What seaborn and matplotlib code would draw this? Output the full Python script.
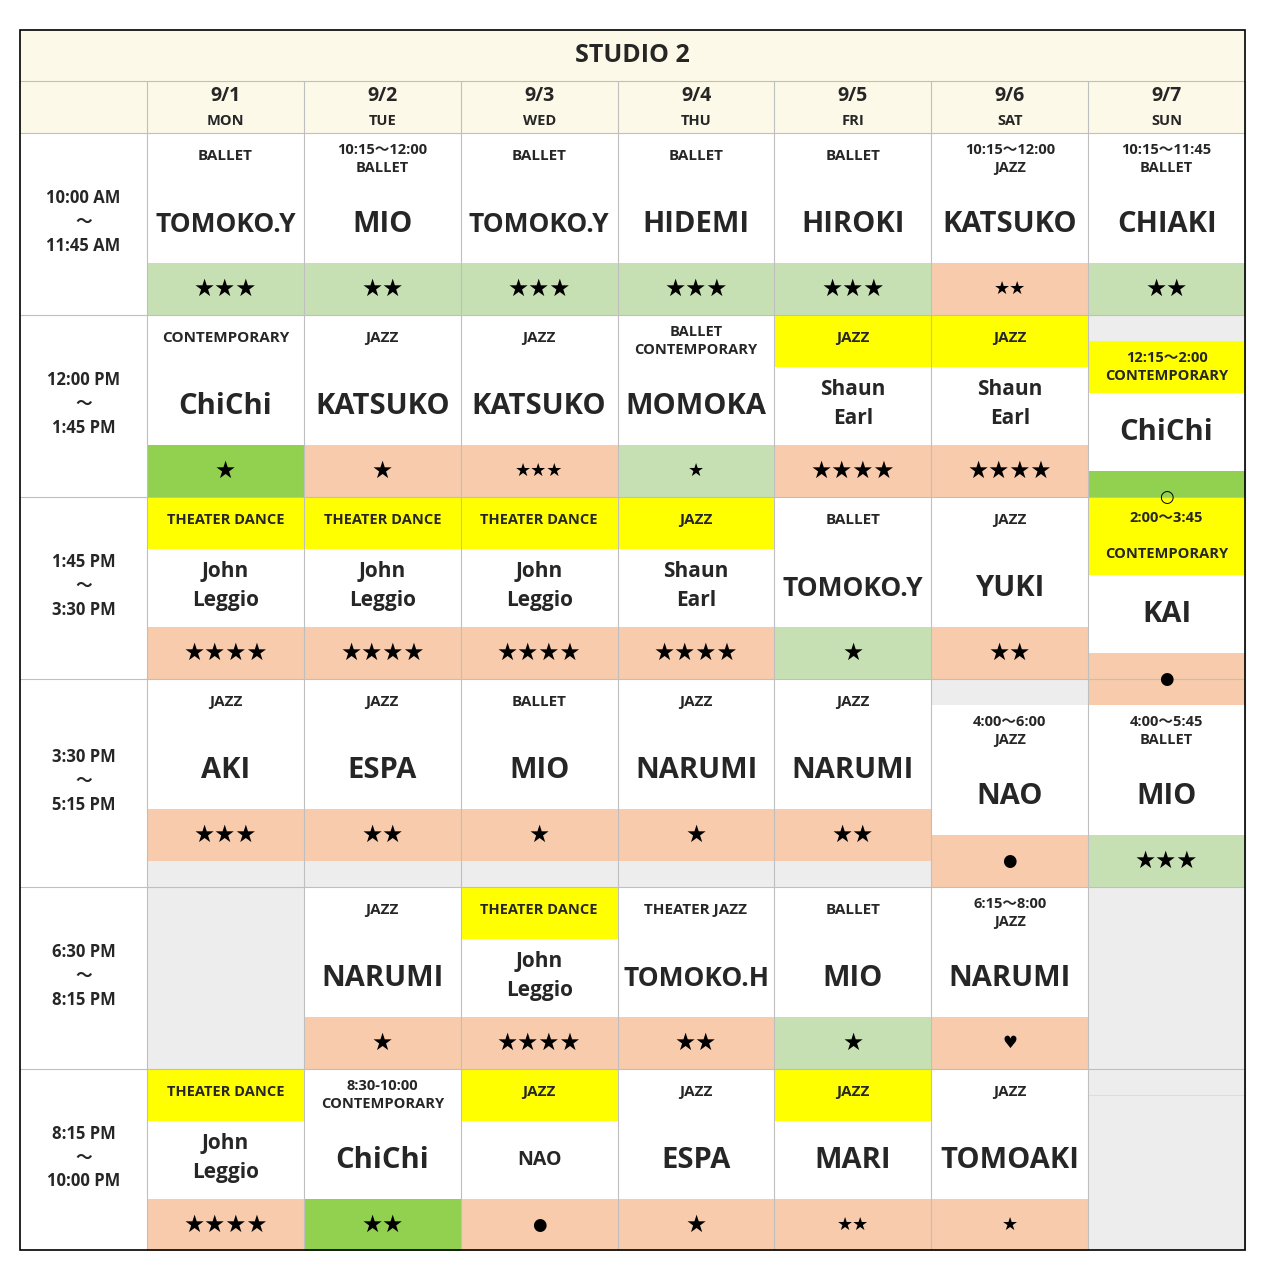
import matplotlib
matplotlib.use("Agg")
import matplotlib.pyplot as plt
import seaborn as sns
from matplotlib.patches import Rectangle

sns.set_theme(style="white")

# ---------------- data ----------------
title = "STUDIO 2"
days = ["9/1", "9/2", "9/3", "9/4", "9/5", "9/6", "9/7"]
weekdays = ["MON", "TUE", "WED", "THU", "FRI", "SAT", "SUN"]
time_slots = ["10:00 AM\n～\n11:45 AM", "12:00 PM\n～\n1:45 PM", "1:45 PM\n～\n3:30 PM",
              "3:30 PM\n～\n5:15 PM", "6:30 PM\n～\n8:15 PM", "8:15 PM\n～\n10:00 PM"]
# (day, slot, class label, instructor, level, class colour, level colour)
classes = [
    (0, 0, "BALLET", "TOMOKO.Y", "★★★", "w", "lg"),
    (1, 0, "10:15～12:00\nBALLET", "MIO", "★★", "w", "lg"),
    (2, 0, "BALLET", "TOMOKO.Y", "★★★", "w", "lg"),
    (3, 0, "BALLET", "HIDEMI", "★★★", "w", "lg"),
    (4, 0, "BALLET", "HIROKI", "★★★", "w", "lg"),
    (5, 0, "10:15～12:00\nJAZZ", "KATSUKO", "★★", "w", "pe"),
    (6, 0, "10:15～11:45\nBALLET", "CHIAKI", "★★", "w", "lg"),
    (0, 1, "CONTEMPORARY", "ChiChi", "★", "w", "bg"),
    (1, 1, "JAZZ", "KATSUKO", "★", "w", "pe"),
    (2, 1, "JAZZ", "KATSUKO", "★★★", "w", "pe"),
    (3, 1, "BALLET\nCONTEMPORARY", "MOMOKA", "★", "w", "lg"),
    (4, 1, "JAZZ", "Shaun\nEarl", "★★★★", "y", "pe"),
    (5, 1, "JAZZ", "Shaun\nEarl", "★★★★", "y", "pe"),
    (6, 1, "12:15～2:00\nCONTEMPORARY", "ChiChi", "○", "y", "bg"),
    (0, 2, "THEATER DANCE", "John\nLeggio", "★★★★", "y", "pe"),
    (1, 2, "THEATER DANCE", "John\nLeggio", "★★★★", "y", "pe"),
    (2, 2, "THEATER DANCE", "John\nLeggio", "★★★★", "y", "pe"),
    (3, 2, "JAZZ", "Shaun\nEarl", "★★★★", "y", "pe"),
    (4, 2, "BALLET", "TOMOKO.Y", "★", "w", "lg"),
    (5, 2, "JAZZ", "YUKI", "★★", "w", "pe"),
    (6, 2, "2:00～3:45\n\nCONTEMPORARY", "KAI", "●", "y", "pe"),
    (0, 3, "JAZZ", "AKI", "★★★", "w", "pe"),
    (1, 3, "JAZZ", "ESPA", "★★", "w", "pe"),
    (2, 3, "BALLET", "MIO", "★", "w", "pe"),
    (3, 3, "JAZZ", "NARUMI", "★", "w", "pe"),
    (4, 3, "JAZZ", "NARUMI", "★★", "w", "pe"),
    (5, 3, "4:00～6:00\nJAZZ", "NAO", "●", "w", "pe"),
    (6, 3, "4:00～5:45\nBALLET", "MIO", "★★★", "w", "lg"),
    (1, 4, "JAZZ", "NARUMI", "★", "w", "pe"),
    (2, 4, "THEATER DANCE", "John\nLeggio", "★★★★", "y", "pe"),
    (3, 4, "THEATER JAZZ", "TOMOKO.H", "★★", "w", "pe"),
    (4, 4, "BALLET", "MIO", "★", "w", "lg"),
    (5, 4, "6:15～8:00\nJAZZ", "NARUMI", "♥", "w", "pe"),
    (0, 5, "THEATER DANCE", "John\nLeggio", "★★★★", "y", "pe"),
    (1, 5, "8:30-10:00\nCONTEMPORARY", "ChiChi", "★★", "w", "bg"),
    (2, 5, "JAZZ", "NAO", "●", "y", "pe"),
    (3, 5, "JAZZ", "ESPA", "★", "w", "pe"),
    (4, 5, "JAZZ", "MARI", "★★", "y", "pe"),
    (5, 5, "JAZZ", "TOMOAKI", "★", "w", "pe"),
]
empty_cells = [(0, 4), (6, 4), (6, 5)]

# ---------------- layout / style ----------------
COL = {"w": "white", "y": "#FFFF00", "lg": "#C6E0B4", "pe": "#F8CBAD", "bg": "#92D050"}
GRAY = "#EDEDED"
HEAD = "#FDF9E8"
FONT = ["Open Sans", "Noto Sans CJK JP", "DejaVu Sans"]
XL, XT, XR = 20, 147, 1245
CW = (XR - XT) / 7
ROWS = [133, 315, 497, 679, 887, 1069, 1250]
offset = {(6, 1): 26, (6, 3): 26, (5, 3): 26}
tall_class = {(6, 2): 78}
small_star = {(5, 0), (2, 1), (3, 1), (4, 5), (5, 5)}
small_name = {(2, 5)}

fig = plt.figure(figsize=(12.65, 12.77), dpi=100)
ax = fig.add_axes([0, 0, 1, 1])
ax.set_xlim(0, 1265)
ax.set_ylim(1277, 0)
ax.axis("off")

def rect(x, y, w, h, c):
    ax.add_patch(Rectangle((x, y), w, h, facecolor=c, edgecolor="none", zorder=1))

def txt(x, y, s, size, ls=1.15):
    ax.text(x, y, s, fontsize=size, fontweight="bold", ha="center", va="center",
            family=FONT, zorder=3, linespacing=ls)

# header
rect(XL, 30, XR - XL, 103, HEAD)
txt((XL + XR) / 2, 56, title, 18)
for i, (d, w) in enumerate(zip(days, weekdays)):
    cx = XT + CW * (i + 0.5)
    txt(cx, 96, d, 14)
    txt(cx, 121, w, 10.5)
for i, t in enumerate(time_slots):
    txt((XL + XT) / 2, (ROWS[i] + ROWS[i + 1]) / 2 - 2, t, 12, 1.4)

# empty gray cells
for d, s in empty_cells:
    rect(XT + CW * d, ROWS[s], CW, ROWS[s + 1] - ROWS[s], GRAY)
rect(XT + CW * 0, 861, CW * 5, 26, GRAY)
rect(XT + CW * 6, 315, CW, 26, GRAY)
rect(XT + CW * 5, 679, CW, 26, GRAY)
ax.plot([XT + CW * 6, XR], [1095, 1095], color="#DDDDDD", lw=0.8, zorder=2)

for d, s, cls, name, lvl, cc, lc in classes:
    x = XT + CW * d
    cx = x + CW / 2
    y0 = ROWS[s] + offset.get((d, s), 0)
    h1 = tall_class.get((d, s), 52)
    y1 = y0 + h1
    y2 = y1 + 78
    y3 = y2 + 52
    rect(x, y0, CW, h1, COL[cc])
    rect(x, y2, CW, 52, COL[lc])
    two = "\n" in cls
    txt(cx, (y0 + y1) / 2 - (3 if not two else 0), cls,
        10.5 if len(cls) > 12 else 11, 1.35)
    if "\n" in name:
        txt(cx, (y1 + y2) / 2 - 2, name, 15, 1.45)
    else:
        big = 19 if len(name) > 7 else 21
        txt(cx, (y1 + y2) / 2, name, 14 if (d, s) in small_name else big)
    ssz = 13 if (d, s) in small_star else 17
    if lvl in ("●", "○", "♥"):
        ssz = 12
    ax.text(cx, (y2 + y3) / 2, lvl, fontsize=ssz, ha="center", va="center",
            family=["DejaVu Sans"], zorder=3, color="black")

# grid lines
for i in range(8):
    xx = XT + CW * i
    ax.plot([xx, xx], [81, 1250], color="#BFBFBF", lw=0.8, zorder=2)
for yy in ROWS[:-1] + [81]:
    ax.plot([XL, XR], [yy, yy], color="#BFBFBF", lw=0.8, zorder=2)
ax.add_patch(Rectangle((XL, 30), XR - XL, 1220, facecolor="none", edgecolor="black",
                       lw=1.2, zorder=4))

fig.savefig("out.png", dpi=100)
